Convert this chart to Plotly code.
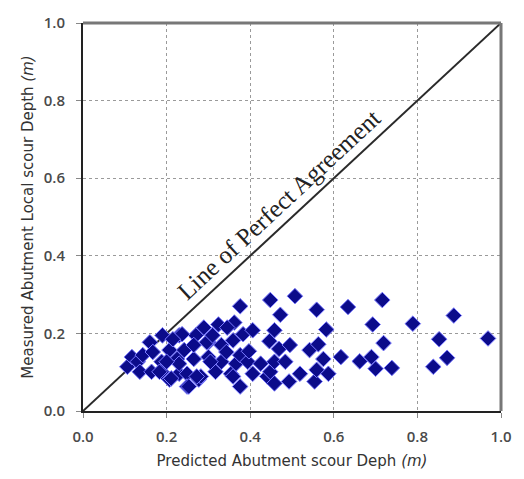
import plotly.graph_objects as go

# Predicted (x) vs measured (y) abutment scour depth, metres
predicted = [0.106, 0.117, 0.131, 0.136, 0.143, 0.160, 0.167, 0.164, 0.188, 0.188,
             0.190, 0.207, 0.207, 0.225, 0.230, 0.230, 0.230, 0.242, 0.249, 0.249,
             0.265, 0.270, 0.277, 0.282, 0.289, 0.300, 0.300, 0.317, 0.324, 0.331,
             0.331, 0.343, 0.354, 0.359, 0.362, 0.366, 0.376, 0.376, 0.376, 0.383,
             0.359, 0.394, 0.397, 0.406, 0.406, 0.425, 0.441, 0.446, 0.448, 0.448,
             0.458, 0.458, 0.458, 0.469, 0.472, 0.484, 0.493, 0.495, 0.507, 0.519,
             0.542, 0.554, 0.559, 0.559, 0.563, 0.575, 0.582, 0.587, 0.617, 0.634,
             0.662, 0.690, 0.693, 0.700, 0.716, 0.719, 0.739, 0.789, 0.838, 0.852,
             0.871, 0.887, 0.969, 0.237, 0.296, 0.211, 0.272, 0.183, 0.200, 0.265,
             0.305, 0.253, 0.310, 0.215, 0.345]
measured = [0.114, 0.139, 0.127, 0.101, 0.144, 0.177, 0.152, 0.101, 0.127, 0.101,
            0.195, 0.157, 0.081, 0.134, 0.195, 0.096, 0.122, 0.157, 0.096, 0.063,
            0.134, 0.195, 0.081, 0.089, 0.215, 0.177, 0.139, 0.101, 0.223, 0.170,
            0.127, 0.152, 0.096, 0.182, 0.228, 0.122, 0.144, 0.270, 0.063, 0.198,
            0.089, 0.127, 0.154, 0.208, 0.096, 0.122, 0.089, 0.180, 0.286, 0.101,
            0.208, 0.127, 0.071, 0.160, 0.248, 0.127, 0.076, 0.170, 0.296, 0.096,
            0.157, 0.076, 0.261, 0.106, 0.172, 0.134, 0.210, 0.096, 0.139, 0.268,
            0.128, 0.139, 0.223, 0.109, 0.286, 0.175, 0.111, 0.225, 0.114, 0.185,
            0.137, 0.246, 0.187, 0.198, 0.177, 0.084, 0.089, 0.101, 0.127, 0.170,
            0.127, 0.063, 0.195, 0.185, 0.215]

tick_vals = [0.0, 0.2, 0.4, 0.6, 0.8, 1.0]
tick_text = ["0.0", "0.2", "0.4", "0.6", "0.8", "1.0"]
agreement = [0.0, 1.0]

fig = go.Figure()
fig.add_trace(go.Scatter(x=agreement, y=agreement, mode="lines",
                         line=dict(color="#2a2a2a", width=2), hoverinfo="skip"))
fig.add_trace(go.Scatter(
    x=predicted, y=measured, mode="markers",
    marker=dict(symbol="diamond", size=12, color="#0b0b8a",
                line=dict(color="#7a7aff", width=1)),
))

tickfont = dict(family="Open Sans", size=15, color="#4a4a4a", weight=600)
axis_common = dict(range=[0, 1], tickvals=tick_vals, ticktext=tick_text,
                   showgrid=True, gridcolor="#9a9a9a", griddash="dot", gridwidth=1,
                   zeroline=False, showline=True, linecolor="#222222", linewidth=2,
                   ticks="outside", ticklen=5, tickcolor="#888888",
                   tickfont=tickfont, fixedrange=True)
titlefont = dict(family="DejaVu Sans", size=15, color="#333333")

fig.update_layout(
    width=524, height=479,
    margin=dict(l=83, r=17, t=14, b=68),
    paper_bgcolor="white", plot_bgcolor="white",
    showlegend=False,
    xaxis=dict(**axis_common, ticklabelstandoff=6,
               title=dict(text="Predicted Abutment scour Deph <i>(m)</i>",
                          font=titlefont, standoff=10)),
    yaxis=dict(**axis_common, ticklabelstandoff=8,
               title=dict(text="Measured Abutment Local scour Depth <i>(m)</i>",
                          font=titlefont, standoff=6)),
    shapes=[
        dict(type="line", xref="paper", yref="paper", x0=0, x1=1, y0=1, y1=1,
             line=dict(color="#777777", width=3)),
        dict(type="line", xref="paper", yref="paper", x0=1, x1=1, y0=0, y1=1,
             line=dict(color="#777777", width=3)),
    ],
    annotations=[dict(x=0.469, y=0.532, xref="x", yref="y",
                      text="Line of Perfect Agreement", showarrow=False,
                      textangle=-42.8,
                      font=dict(family="Liberation Serif", size=25, color="#222222"))],
)

fig.write_html("out.html")
